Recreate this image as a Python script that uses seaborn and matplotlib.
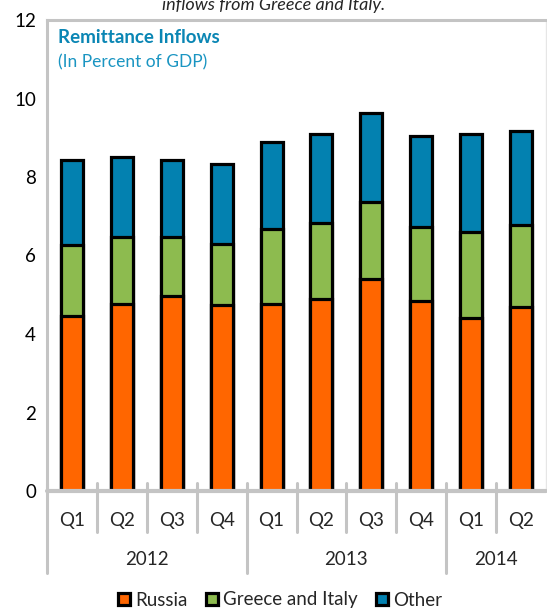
import matplotlib
matplotlib.use("Agg")
import matplotlib.pyplot as plt
import numpy as np
import pandas as pd
import seaborn as sns

# values (percent of GDP)
years = ["2012", "2013", "2014"]
quarters = ["Q1", "Q2", "Q3", "Q4", "Q1", "Q2", "Q3", "Q4", "Q1", "Q2"]
period_year = ["2012"] * 4 + ["2013"] * 4 + ["2014"] * 2
russia = [4.45, 4.77, 4.96, 4.73, 4.77, 4.90, 5.41, 4.85, 4.41, 4.68]
greece_italy = [1.81, 1.69, 1.50, 1.57, 1.91, 1.93, 1.95, 1.88, 2.19, 2.09]
other = [2.18, 2.04, 1.98, 2.02, 2.22, 2.26, 2.27, 2.31, 2.49, 2.41]

colors = {"Russia": "#FF6600", "Greece and Italy": "#8DBB4F", "Other": "#0381B0"}
grey = "#C4C4C4"

sns.set_style("white")
plt.rcParams["font.family"] = ["Lato", "DejaVu Sans"]

df = pd.DataFrame({
    "period": [f"{y} {q}" for y, q in zip(period_year, quarters)],
    "Russia": russia,
    "Greece and Italy": greece_italy,
    "Other": other,
})
df["lvl1"] = df["Russia"]
df["lvl2"] = df["lvl1"] + df["Greece and Italy"]
df["lvl3"] = df["lvl2"] + df["Other"]
order = list(df["period"])

fig = plt.figure(figsize=(5.47, 6.12), dpi=100)
ax = fig.add_axes([47 / 547, 1 - 491 / 612, 499 / 547, 471 / 612])

# stacked look: draw cumulative totals back to front
for col, name in [("lvl3", "Other"), ("lvl2", "Greece and Italy"), ("lvl1", "Russia")]:
    sns.barplot(data=df, x="period", y=col, order=order, color=colors[name],
                width=0.44, edgecolor="black", linewidth=2.3, saturation=1,
                label=name, ax=ax, zorder=2)

ax.set_ylim(0, 12)
ax.set_xlim(-0.5, len(order) - 0.5)
ax.set_yticks(np.arange(0, 13, 2))
ax.set_xticks([])
ax.set_xlabel("")
ax.set_ylabel("")
ax.tick_params(axis="y", direction="in", length=6, width=2, color=grey,
               labelsize=13.5, pad=8, labelcolor="black")
if ax.get_legend():
    ax.get_legend().remove()

for side in ["left", "top"]:
    ax.spines[side].set_color(grey)
    ax.spines[side].set_linewidth(2.2)
ax.spines["right"].set_color("#E6E6E6")
ax.spines["right"].set_linewidth(1)
ax.spines["bottom"].set_visible(False)
ax.axhline(0, color=grey, lw=3, zorder=5, clip_on=False)

# category separators and labels below the axis
trans = ax.get_xaxis_transform()
year_starts = [i for i in range(len(order)) if i == 0 or period_year[i] != period_year[i - 1]]
for i in range(len(order)):
    x = i - 0.5
    y0 = -0.174 if i in year_starts else -0.087
    ax.plot([x, x], [0.017, y0], transform=trans, color=grey, lw=2.2,
            clip_on=False, zorder=4)
for i, q in enumerate(quarters):
    ax.text(i, -0.062, q, transform=trans, ha="center", va="center", fontsize=13.5)
for y in years:
    idx = [i for i, py in enumerate(period_year) if py == y]
    ax.text((idx[0] + idx[-1]) / 2, -0.146, y, transform=trans,
            ha="center", va="center", fontsize=13.5)

ax.text(0.022, 0.962, "Remittance Inflows", transform=ax.transAxes,
        color="#0A86B4", fontsize=13.5, fontweight="bold", va="center", ha="left")
ax.text(0.022, 0.911, "(In Percent of GDP)", transform=ax.transAxes,
        color="#1A95C2", fontsize=12.5, va="center", ha="left")

fig.text(0.501, 1 - 10 / 612, "inflows from Greece and Italy.", ha="center",
         va="baseline", fontsize=13, style="italic")

handles, labels = ax.get_legend_handles_labels()
lookup = dict(zip(labels, handles))
names = ["Russia", "Greece and Italy", "Other"]
fig.legend([lookup[n] for n in names], names, loc="center",
           bbox_to_anchor=(0.512, 1 - 600 / 612), ncol=3, frameon=False,
           fontsize=13.5, handlelength=0.65, handleheight=0.65,
           handletextpad=0.25, columnspacing=1.0, borderaxespad=0)

fig.savefig("out.png", dpi=100)
